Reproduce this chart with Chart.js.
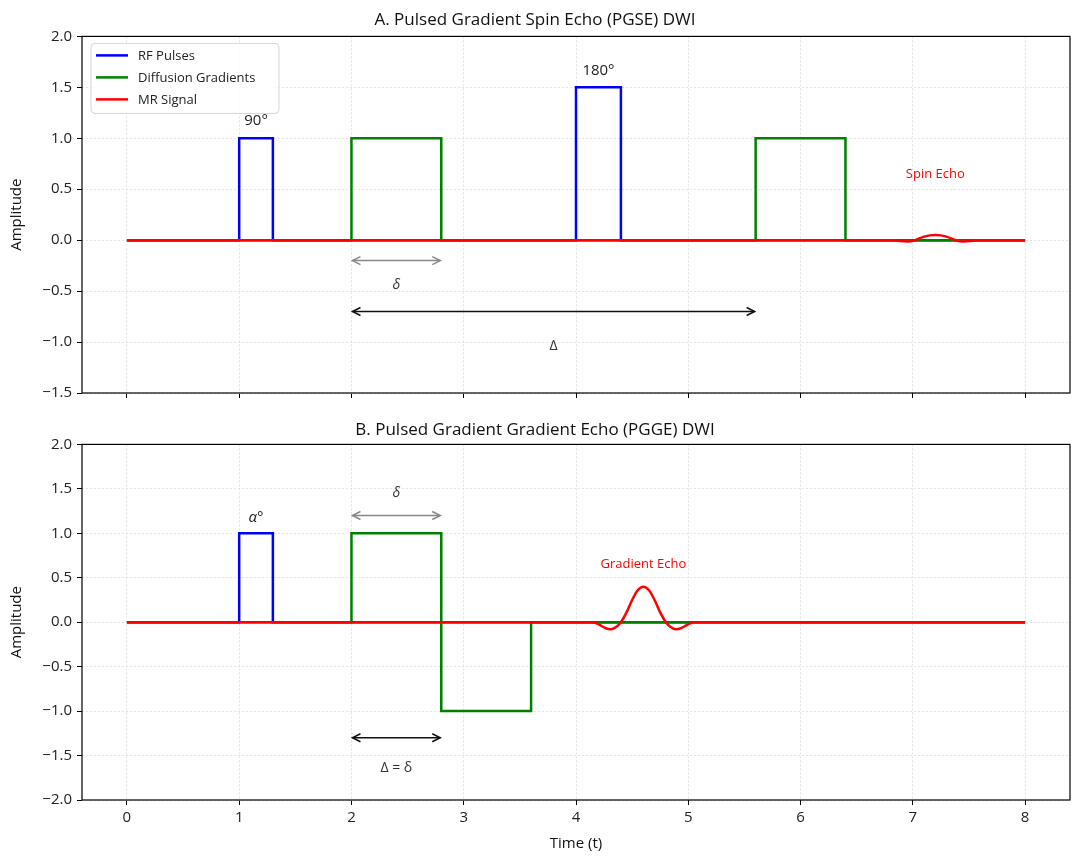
<!DOCTYPE html>
<html>
<head>
<meta charset="utf-8">
<script src="https://cdn.jsdelivr.net/npm/chart.js@4.4.1/dist/chart.umd.min.js"></script>
<style>
  body { margin: 0; background: #fff; }
  #wrap { position: relative; width: 1080px; height: 859px; }
  .panel { position: absolute; left: 0; }
</style>
</head>
<body>
<div id="wrap">
  <div class="panel" style="top:0"><canvas id="pgse" width="1080" height="407"></canvas></div>
  <div class="panel" style="top:400px"><canvas id="pgge" width="1080" height="459"></canvas></div>
</div>
<script>
// time axis
var timeMin = -0.4, timeMax = 8.4;

// panel A: PGSE
var rfA   = [[0,0],[1,0],[1,1],[1.3,1],[1.3,0],[4,0],[4,1.5],[4.4,1.5],[4.4,0],[8,0]];
var gradA = [[0,0],[2,0],[2,1],[2.8,1],[2.8,0],[5.6,0],[5.6,1],[6.4,1],[6.4,0],[8,0]];
var sigA  = [[0,0],[6.8,0],[6.88,-0.008],[6.95,-0.012],[7.02,0],[7.1,0.035],[7.2,0.05],[7.3,0.035],[7.38,0],[7.45,-0.012],[7.52,-0.008],[7.6,0],[8,0]];

// panel B: PGGE
var rfB   = [[0,0],[1,0],[1,1],[1.3,1],[1.3,0],[8,0]];
var gradB = [[0,0],[2,0],[2,1],[2.8,1],[2.8,-1],[3.6,-1],[3.6,0],[8,0]];
var sigB  = [[0,0],[4.15,0],[4.21,-0.03],[4.26,-0.065],[4.31,-0.08],[4.36,-0.05],[4.4,0],[4.45,0.11],[4.5,0.25],[4.55,0.36],[4.6,0.4],[4.65,0.36],[4.7,0.25],[4.75,0.11],[4.8,0],[4.84,-0.05],[4.89,-0.08],[4.94,-0.065],[4.99,-0.03],[5.05,0],[8,0]];

var seriesNames = ['RF Pulses', 'Diffusion Gradients', 'MR Signal'];
var seriesColors = ['#0000ff', '#008000', '#ff0000'];

var FONT = "'Open Sans', 'DejaVu Sans', sans-serif";

function toPts(arr) { return arr.map(function (p) { return { x: p[0], y: p[1] }; }); }
function fmt(v) { return v.toFixed(1).replace('-', '\u2212'); }

function makeSets(rf, grad, sig) {
  return [rf, grad, sig].map(function (d, i) {
    return {
      label: seriesNames[i],
      data: toPts(d),
      borderColor: seriesColors[i],
      backgroundColor: seriesColors[i],
      borderWidth: 2.5,
      pointRadius: 0,
      fill: false,
      order: 2 - i,
      cubicInterpolationMode: i === 2 ? 'monotone' : 'default',
      tension: 0
    };
  });
}

// annotations in data units
var notesA = [
  { t: '90\u00b0', x: 1.15, y: 1.17, size: 15, color: '#222' },
  { t: '180\u00b0', x: 4.2, y: 1.66, size: 15, color: '#222' },
  { t: 'Spin Echo', x: 7.2, y: 0.65, size: 13, color: '#ff0000' },
  { t: '\u03b4', x: 2.4, y: -0.44, size: 14, color: '#333', italic: true },
  { t: '\u0394', x: 3.8, y: -1.04, size: 14, color: '#333' }
];
var arrowsA = [
  { x0: 2.0, x1: 2.8, y: -0.2, color: '#888888' },
  { x0: 2.0, x1: 5.6, y: -0.7, color: '#111111' }
];
var notesB = [
  { t: '\u03b1\u00b0', x: 1.15, y: 1.17, size: 15, color: '#222', italic: true },
  { t: 'Gradient Echo', x: 4.6, y: 0.65, size: 13, color: '#ff0000' },
  { t: '\u03b4', x: 2.4, y: 1.45, size: 14, color: '#333', italic: true },
  { t: '\u0394 = \u03b4', x: 2.4, y: -1.64, size: 14, color: '#333' }
];
var arrowsB = [
  { x0: 2.0, x1: 2.8, y: 1.2, color: '#888888' },
  { x0: 2.0, x1: 2.8, y: -1.3, color: '#111111' }
];

function drawHead(ctx, x, y, dir) {
  ctx.beginPath();
  ctx.moveTo(x + dir * 8, y - 4);
  ctx.lineTo(x, y);
  ctx.lineTo(x + dir * 8, y + 4);
  ctx.stroke();
}

var decorPlugin = {
  id: 'decor',
  afterDraw: function (chart, args, opts) {
    var ctx = chart.ctx, a = chart.chartArea;
    var xs = chart.scales.x, ys = chart.scales.y;
    ctx.save();
    // arrows
    (opts.arrows || []).forEach(function (ar) {
      var px0 = xs.getPixelForValue(ar.x0) + 1, px1 = xs.getPixelForValue(ar.x1) - 1;
      var py = ys.getPixelForValue(ar.y);
      ctx.strokeStyle = ar.color;
      ctx.lineWidth = 1.5;
      ctx.beginPath(); ctx.moveTo(px0, py); ctx.lineTo(px1, py); ctx.stroke();
      drawHead(ctx, px0, py, 1);
      drawHead(ctx, px1, py, -1);
    });
    // text
    ctx.textAlign = 'center';
    ctx.textBaseline = 'middle';
    (opts.notes || []).forEach(function (n) {
      ctx.fillStyle = n.color;
      ctx.font = (n.italic ? 'italic ' : '') + n.size + 'px ' + FONT;
      ctx.fillText(n.t, xs.getPixelForValue(n.x), ys.getPixelForValue(n.y));
    });
    // frame
    ctx.strokeStyle = '#000';
    ctx.lineWidth = 1.2;
    ctx.strokeRect(a.left, a.top, a.right - a.left, a.bottom - a.top);
    // legend
    if (opts.legend) {
      var bx = a.left + 9, by = a.top + 7, bw = 188, bh = 70;
      ctx.fillStyle = 'rgba(255,255,255,0.85)';
      ctx.strokeStyle = '#d6d6d6';
      ctx.lineWidth = 1;
      ctx.beginPath();
      ctx.roundRect(bx, by, bw, bh, 4);
      ctx.fill();
      ctx.stroke();
      ctx.textAlign = 'left';
      ctx.font = '13px ' + FONT;
      seriesNames.forEach(function (name, i) {
        var ly = by + 12 + i * 22;
        ctx.strokeStyle = seriesColors[i];
        ctx.lineWidth = 2.5;
        ctx.beginPath(); ctx.moveTo(bx + 5, ly); ctx.lineTo(bx + 37, ly); ctx.stroke();
        ctx.fillStyle = '#222';
        ctx.fillText(name, bx + 47, ly + 1);
      });
    }
    ctx.restore();
  }
};

function makeOptions(title, yMin, yMax, showX, titlePad, notes, arrows, legend) {
  return {
    responsive: false,
    animation: false,
    layout: { padding: { left: 0, right: 10, top: 0, bottom: 0 } },
    plugins: {
      legend: { display: false },
      tooltip: { enabled: false },
      title: {
        display: true,
        text: title,
        color: '#111',
        font: { family: FONT, size: 17, weight: 'normal' },
        padding: titlePad
      },
      decor: { notes: notes, arrows: arrows, legend: legend }
    },
    scales: {
      x: {
        type: 'linear',
        min: timeMin,
        max: timeMax,
        ticks: {
          stepSize: 1,
          includeBounds: false,
          color: '#222',
          padding: 4,
          font: { family: FONT, size: 15 },
          callback: function (v) { return showX ? String(v) : ''; }
        },
        grid: {
          color: '#dcdcdc',
          lineWidth: 0.8,
          tickColor: '#000',
          tickLength: 5,
          tickWidth: 1,
          tickBorderDash: []
        },
        border: { display: false, dash: [2, 2] },
        title: {
          display: showX,
          text: 'Time (t)',
          color: '#111',
          font: { family: FONT, size: 15 },
          padding: { top: 2, bottom: 6 }
        },
        afterFit: function (s) { s.height = showX ? 59 : 8; }
      },
      y: {
        min: yMin,
        max: yMax,
        ticks: {
          stepSize: 0.5,
          color: '#222',
          padding: 5,
          font: { family: FONT, size: 15 },
          callback: function (v) { return fmt(v); }
        },
        grid: {
          color: '#dcdcdc',
          lineWidth: 0.8,
          tickColor: '#000',
          tickLength: 5,
          tickWidth: 1,
          tickBorderDash: []
        },
        border: { display: false, dash: [2, 2] },
        title: {
          display: true,
          text: 'Amplitude',
          color: '#111',
          font: { family: FONT, size: 15 },
          padding: { top: 8, bottom: 4 }
        },
        afterFit: function (s) { s.width = 82; }
      }
    }
  };
}

new Chart(document.getElementById('pgse'), {
  type: 'line',
  data: { datasets: makeSets(rfA, gradA, sigA) },
  options: makeOptions('A. Pulsed Gradient Spin Echo (PGSE) DWI', -1.5, 2.0, false,
    { top: 10, bottom: 6 }, notesA, arrowsA, true),
  plugins: [decorPlugin]
});

new Chart(document.getElementById('pgge'), {
  type: 'line',
  data: { datasets: makeSets(rfB, gradB, sigB) },
  options: makeOptions('B. Pulsed Gradient Gradient Echo (PGGE) DWI', -2.0, 2.0, true,
    { top: 20, bottom: 4 }, notesB, arrowsB, false),
  plugins: [decorPlugin]
});
</script>
</body>
</html>
